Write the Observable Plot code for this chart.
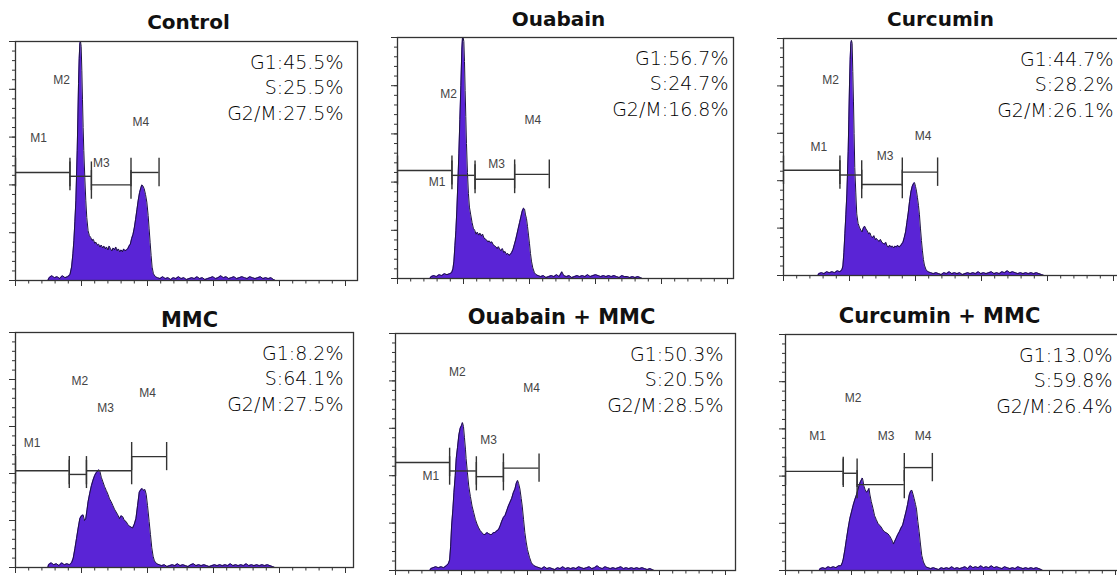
<!DOCTYPE html>
<html><head><meta charset="utf-8">
<script src="https://cdn.jsdelivr.net/npm/d3@7"></script>
<script src="https://cdn.jsdelivr.net/npm/@observablehq/plot@0.6"></script>
<style>
html,body{margin:0;padding:0;background:#fff;overflow:hidden;width:1117px;height:575px}
#root{position:relative;width:1117px;height:575px;overflow:hidden}
.panel{position:absolute}
</style></head><body><div id="root"></div>
<script>
// ---- data ----
const titles = ["Control", "Ouabain", "Curcumin", "MMC", "Ouabain + MMC", "Curcumin + MMC"];
const statsControl = ["G1:45.5%", "S:25.5%", "G2/M:27.5%"];
const statsOuabain = ["G1:56.7%", "S:24.7%", "G2/M:16.8%"];
const statsCurcumin = ["G1:44.7%", "S:28.2%", "G2/M:26.1%"];
const statsMMC = ["G1:8.2%", "S:64.1%", "G2/M:27.5%"];
const statsOuabainMMC = ["G1:50.3%", "S:20.5%", "G2/M:28.5%"];
const statsCurcuminMMC = ["G1:13.0%", "S:59.8%", "G2/M:26.4%"];

// histograms: [channel, count]
const histControl = [[0,0],[98,0],[102,3],[110,5],[118,3],[126,4],[134,2],[142,5],[150,3],[158,4],[165,6],[170,14],[174,28],[177,42],[180,62],[183,84],[185,110],[187,136],[189,170],[191,206],[193,232],[195,248],[197,250],[199,245],[201,220],[203,189],[205,160],[207,136],[210,108],[213,84],[216,66],[220,52],[224,47],[228,45],[232,42],[236,43],[240,39],[244,40],[248,37],[252,38],[256,35],[260,37],[264,34],[268,36],[272,33],[276,35],[280,32],[284,36],[288,33],[292,31],[296,34],[300,32],[304,35],[308,31],[312,33],[316,30],[320,32],[324,30],[328,33],[332,31],[336,32],[340,33],[344,36],[348,38],[352,44],[356,48],[360,55],[364,64],[368,74],[372,84],[376,92],[380,97],[383,100],[386,99],[390,96],[394,90],[398,82],[402,68],[405,54],[408,40],[411,26],[414,14],[418,7],[424,4],[430,3],[438,2],[446,4],[454,2],[462,3],[470,1],[478,3],[486,2],[494,4],[502,2],[510,3],[518,1],[526,2],[534,3],[542,2],[550,4],[558,2],[566,3],[574,1],[582,2],[590,3],[598,4],[606,2],[614,3],[622,5],[630,3],[638,4],[646,2],[654,3],[662,4],[670,2],[678,3],[686,4],[694,3],[702,2],[710,4],[718,3],[726,2],[734,3],[742,4],[750,2],[758,3],[766,2],[774,3],[782,1],[788,0],[1000,0]];
const histOuabain = [[0,0],[98,0],[102,2],[110,3],[118,2],[126,4],[134,3],[142,5],[150,4],[158,5],[164,6],[168,10],[171,18],[174,34],[177,50],[180,72],[183,100],[186,130],[189,165],[192,200],[195,238],[197,250],[199,250],[201,246],[203,225],[205,195],[207,168],[209,140],[212,110],[215,88],[218,74],[222,66],[226,58],[230,52],[234,50],[238,46],[242,48],[246,45],[250,47],[254,44],[258,46],[262,42],[266,41],[270,40],[274,38],[278,39],[282,37],[286,38],[290,35],[294,34],[298,33],[302,31],[306,33],[310,30],[314,29],[318,31],[322,27],[326,28],[330,25],[334,26],[338,24],[342,25],[346,27],[350,30],[354,35],[358,40],[362,46],[366,52],[370,58],[374,64],[378,70],[382,73],[385,72],[388,66],[391,62],[394,54],[397,45],[400,36],[403,26],[406,18],[410,11],[415,6],[420,4],[426,3],[434,2],[442,3],[450,1],[458,2],[466,3],[474,2],[482,4],[490,2],[498,7],[504,3],[512,2],[520,3],[528,1],[536,2],[544,3],[552,2],[560,3],[568,2],[576,4],[584,2],[592,3],[600,4],[608,3],[616,2],[624,3],[632,2],[640,3],[648,2],[656,3],[664,2],[672,1],[680,3],[688,2],[696,2],[704,1],[712,2],[720,1],[728,2],[736,1],[742,0],[1000,0]];
const histCurcumin = [[0,0],[104,0],[107,2],[115,3],[123,2],[131,4],[139,3],[147,4],[155,3],[163,5],[171,4],[177,6],[180,10],[183,24],[186,44],[189,64],[192,86],[194,108],[196,131],[198,165],[200,201],[202,228],[204,245],[206,248],[208,245],[210,215],[212,184],[214,150],[216,114],[219,88],[222,65],[226,55],[230,51],[234,48],[238,46],[242,50],[246,52],[250,49],[254,47],[258,44],[262,45],[266,41],[270,40],[274,42],[278,38],[282,39],[286,37],[290,36],[294,38],[298,35],[302,34],[306,33],[310,35],[314,31],[318,30],[322,32],[326,30],[330,31],[334,29],[338,31],[342,30],[346,32],[350,30],[354,31],[358,33],[362,35],[366,40],[370,46],[374,56],[378,66],[382,78],[386,88],[390,94],[394,97],[397,98],[400,94],[403,89],[406,82],[409,74],[412,64],[415,50],[418,37],[421,26],[424,17],[427,11],[432,6],[438,4],[446,3],[454,2],[462,3],[470,2],[478,1],[486,3],[494,2],[502,4],[510,2],[518,3],[526,2],[534,3],[542,1],[550,2],[558,3],[566,2],[574,3],[582,2],[590,4],[598,2],[606,3],[614,2],[622,3],[630,4],[638,2],[646,3],[654,2],[662,4],[670,3],[678,5],[686,3],[694,4],[702,3],[710,2],[718,3],[726,2],[734,3],[742,2],[750,3],[758,2],[766,3],[774,2],[782,1],[790,0],[1000,0]];
const histMMC = [[0,0],[98,0],[100,3],[108,5],[116,3],[124,4],[132,2],[140,5],[148,3],[156,4],[164,3],[170,5],[175,10],[180,20],[185,31],[190,42],[195,52],[200,55],[205,56],[209,50],[213,52],[217,62],[220,70],[225,79],[230,87],[235,93],[240,98],[245,101],[250,103],[253,104],[256,102],[260,96],[265,91],[270,86],[275,82],[280,78],[285,73],[290,70],[295,66],[300,62],[305,59],[310,56],[315,52],[320,55],[325,54],[330,50],[335,49],[340,46],[345,44],[350,43],[355,42],[360,46],[365,52],[370,66],[375,80],[380,83],[384,84],[388,82],[392,83],[396,78],[400,66],[405,49],[409,35],[413,21],[417,12],[421,7],[428,4],[435,3],[443,2],[451,3],[459,1],[467,2],[475,3],[483,2],[491,4],[499,2],[507,3],[515,2],[523,1],[531,3],[539,4],[547,2],[555,3],[563,2],[571,3],[579,2],[587,1],[595,2],[603,3],[611,2],[619,3],[627,2],[635,3],[643,2],[651,4],[659,2],[667,3],[675,2],[683,3],[691,2],[699,4],[707,2],[715,3],[723,2],[731,3],[739,2],[747,3],[755,2],[763,3],[771,2],[779,1],[786,0],[1000,0]];
const histOuabainMMC = [[0,0],[104,0],[107,2],[114,3],[122,4],[130,3],[138,4],[146,3],[154,5],[160,7],[164,11],[167,25],[170,47],[174,65],[177,82],[181,100],[184,118],[188,130],[192,143],[196,150],[200,153],[203,156],[206,152],[209,140],[212,128],[214,118],[218,103],[222,89],[227,78],[232,68],[237,61],[242,54],[247,49],[252,45],[257,42],[262,40],[267,38],[272,38],[277,40],[282,39],[287,38],[292,38],[297,40],[302,40],[307,42],[312,43],[317,47],[322,52],[327,56],[332,58],[337,63],[342,68],[347,72],[352,76],[357,82],[362,86],[366,92],[370,95],[373,92],[377,86],[381,76],[384,68],[388,54],[392,40],[396,30],[400,22],[406,14],[412,8],[420,5],[427,4],[435,3],[443,2],[451,4],[459,2],[467,3],[475,2],[483,1],[491,3],[499,2],[507,4],[515,2],[523,3],[531,2],[539,3],[547,2],[555,4],[563,3],[571,2],[579,3],[587,4],[595,2],[603,3],[611,5],[619,3],[627,2],[635,4],[643,3],[651,2],[659,3],[667,2],[675,3],[683,4],[691,2],[699,3],[707,2],[715,3],[723,2],[731,3],[739,2],[747,3],[755,2],[763,1],[771,2],[778,1],[784,0],[1000,0]];
const histCurcuminMMC = [[0,0],[102,0],[105,2],[113,3],[121,2],[129,4],[137,3],[145,4],[153,3],[161,5],[168,5],[172,8],[175,12],[180,22],[185,34],[190,45],[195,55],[200,62],[205,69],[210,75],[215,80],[219,85],[223,90],[227,94],[230,96],[233,98],[235,95],[237,90],[241,86],[245,83],[249,84],[253,87],[256,80],[260,73],[265,66],[270,58],[275,54],[280,50],[285,48],[290,46],[295,43],[300,41],[305,40],[310,39],[315,37],[320,34],[324,31],[327,28],[331,31],[335,34],[340,38],[345,41],[350,45],[355,48],[360,55],[365,62],[370,70],[375,80],[379,84],[383,85],[387,80],[390,76],[394,70],[397,65],[401,52],[405,41],[409,28],[413,16],[418,9],[425,4],[432,3],[440,2],[448,3],[456,2],[464,1],[472,3],[480,2],[488,3],[496,2],[504,4],[512,2],[520,3],[528,2],[536,3],[544,4],[552,2],[560,5],[568,3],[576,4],[584,3],[592,5],[600,3],[608,4],[616,3],[624,5],[632,3],[640,4],[648,3],[656,2],[664,4],[672,3],[680,2],[688,3],[696,2],[704,4],[712,3],[720,2],[728,3],[736,2],[744,3],[752,2],[760,3],[768,2],[775,1],[780,0],[1000,0]];

// marker gates: [name, from, to, level]
const gatesControl = [["M1",0,165,113],["M2",165,230,109],["M3",230,350,100],["M4",350,435,113]];
const gatesOuabain = [["M1",0,165,112],["M2",165,235,107],["M3",235,355,103],["M4",355,460,108]];
const gatesCurcumin = [["M1",0,171,111],["M2",171,237,106],["M3",237,360,96],["M4",360,467,109]];
const gatesMMC = [["M1",0,163,103],["M2",163,215,99],["M3",215,352,103],["M4",352,458,118]];
const gatesOuabainMMC = [["M1",0,164,114],["M2",164,245,105],["M3",245,327,99],["M4",327,435,108]];
const gatesCurcuminMMC = [["M1",0,175,105],["M2",175,217,103],["M3",217,360,91],["M4",360,445,109]];
// gate labels: [name, channel, level]
const labelsControl = [["M1",70,149],["M2",140,210],["M3",260,123],["M4",380,166]];
const labelsOuabain = [["M1",120,100],["M2",155,191],["M3",300,119],["M4",410,164]];
const labelsCurcumin = [["M1",107,135],["M2",143,206],["M3",308,126],["M4",423,147]];
const labelsMMC = [["M1",50,132],["M2",195,198],["M3",273,170],["M4",400,185]];
const labelsOuabainMMC = [["M1",107,100],["M2",187,209],["M3",282,138],["M4",412,192]];
const labelsCurcuminMMC = [["M1",97,142],["M2",205,183],["M3",305,142],["M4",417,142]];

const xMajorTicks = [0, 200, 400, 600, 800, 1000];
const xMinorTicks = d3.range(0, 1001, 40);
const yMajorTicks = [0, 50, 100, 150, 200, 250];
const yMinorTicks = d3.range(0, 251, 10);

// ---- layout (pixels) ----
const layout = [
  {left: 15,  top: 41,  w: 342, h: 239, titleDx: 2,   titleGap: 13, statsDx: 14},
  {left: 397, top: 37,  w: 336, h: 241, titleDx: -7,  titleGap: 12, statsDx: 5},
  {left: 783, top: 38,  w: 340, h: 237, titleDx: -13, titleGap: 13, statsDx: 10},
  {left: 15,  top: 332, w: 338, h: 235, titleDx: 5,   titleGap: 6,  statsDx: 10},
  {left: 395, top: 333, w: 340, h: 237, titleDx: -4,  titleGap: 10, statsDx: 12},
  {left: 785, top: 334, w: 340, h: 236, titleDx: -16, titleGap: 12, statsDx: 13}
];

const statsAll = [statsControl, statsOuabain, statsCurcumin, statsMMC, statsOuabainMMC, statsCurcuminMMC];
const histAll = [histControl, histOuabain, histCurcumin, histMMC, histOuabainMMC, histCurcuminMMC];
const gatesAll = [gatesControl, gatesOuabain, gatesCurcumin, gatesMMC, gatesOuabainMMC, gatesCurcuminMMC];
const labelsAll = [labelsControl, labelsOuabain, labelsCurcumin, labelsMMC, labelsOuabainMMC, labelsCurcuminMMC];

const root = document.getElementById("root");
const ML = 10, MR = 2, MT = 36, MB = 10;
const CAP = 15;
const ink = "#333";

titles.forEach((title, i) => {
  const L = layout[i];
  const hist = histAll[i].map(([x, y]) => ({x, y}));
  const gates = gatesAll[i].map(([name, x1, x2, y]) => ({name, x1, x2, y}));
  const caps = gates.flatMap(g => [{x: g.x1, y: g.y}, {x: g.x2, y: g.y}]);
  const labels = labelsAll[i].map(([name, x, y]) => ({name, x, y}));
  const xMax = L.w / 0.33;
  const chart = Plot.plot({
    width: ML + L.w + MR,
    height: MT + L.h + MB,
    marginLeft: ML, marginRight: MR, marginTop: MT, marginBottom: MB,
    style: {background: "transparent", maxWidth: "none", overflow: "visible"},
    x: {domain: [0, xMax]},
    y: {domain: [0, 250]},
    marks: [
      Plot.areaY(hist, {x: "x", y: "y", fill: "#5a24d6"}),
      Plot.lineY(hist, {x: "x", y: "y", stroke: "#1c1240", strokeWidth: 1}),
      Plot.frame({stroke: ink, strokeWidth: 1.3}),
      Plot.axisX({ticks: xMajorTicks, tickSize: 6, tickFormat: () => "", stroke: ink, label: null}),
      Plot.axisX({ticks: xMinorTicks, tickSize: 3.5, tickFormat: () => "", stroke: ink, label: null}),
      Plot.axisY({ticks: yMajorTicks, tickSize: 6, tickFormat: () => "", stroke: ink, label: null}),
      Plot.axisY({ticks: yMinorTicks, tickSize: 3, tickFormat: () => "", stroke: ink, label: null}),
      Plot.ruleY(gates, {y: "y", x1: "x1", x2: "x2", stroke: ink, strokeWidth: 1.4}),
      Plot.ruleX(caps, {x: "x", y1: d => d.y - CAP, y2: d => d.y + CAP, stroke: ink, strokeWidth: 1.4}),
      Plot.text(labels, {x: "x", y: "y", text: "name", fill: "#444", fontSize: 12, fontFamily: "Liberation Sans, Arial, sans-serif"}),
      ...statsAll[i].map((s, k) => Plot.text([s], {
        frameAnchor: "top-right", textAnchor: "end", lineAnchor: "bottom",
        dx: -L.statsDx, dy: 27 + k * 25.5,
        fontSize: 19, fontFamily: "DejaVu Sans, sans-serif", fontWeight: 300, fill: "#000"
      })),
      Plot.text([title], {
        frameAnchor: "top", lineAnchor: "bottom", dx: L.titleDx, dy: -L.titleGap,
        fontSize: i < 3 ? 20 : 21, fontWeight: "bold", fontFamily: "DejaVu Sans, sans-serif", fill: "#111"
      })
    ]
  });
  const div = document.createElement("div");
  div.className = "panel";
  div.style.left = (L.left - ML) + "px";
  div.style.top = (L.top - MT) + "px";
  div.style.width = (ML + L.w + MR) + "px";
  div.appendChild(chart);
  root.appendChild(div);
});
</script>
</body></html>
